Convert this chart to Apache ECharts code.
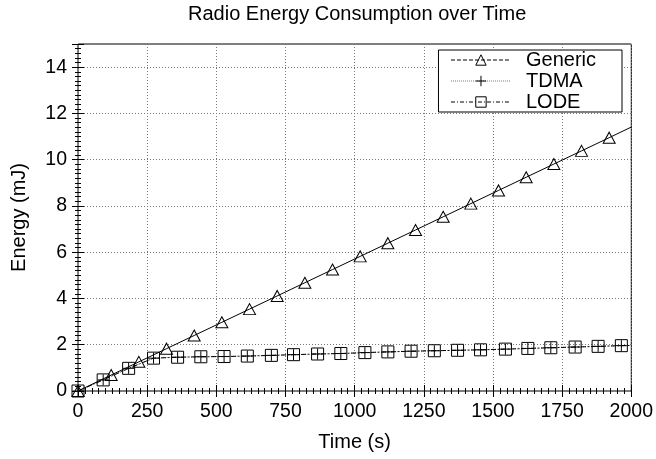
<!DOCTYPE html>
<html>
<head>
<meta charset="utf-8">
<script src="https://cdn.jsdelivr.net/npm/echarts@6/dist/echarts.min.js"></script>
<style>
html,body{margin:0;padding:0;background:#fff;}
#chart{width:656px;height:459px;}
</style>
</head>
<body>
<div id="chart"></div>
<script>
// ---- data ----
const chartTitle = 'Radio Energy Consumption over Time';
const xName = 'Time (s)';
const yName = 'Energy (mJ)';
const seriesNames = ['Generic', 'TDMA', 'LODE'];

const genericTime = [0, 120, 220, 320, 420, 520, 620, 720, 820, 920, 1020, 1120, 1220, 1320, 1420, 1520, 1620, 1720, 1820, 1920, 2000];
const genericEnergy = [0, 0.69, 1.26, 1.83, 2.40, 2.97, 3.54, 4.11, 4.68, 5.25, 5.82, 6.39, 6.96, 7.53, 8.10, 8.67, 9.24, 9.81, 10.38, 10.95, 11.41];

const lodeTime = [0, 91, 183, 273, 360, 444, 528, 612, 699, 779, 866, 950, 1037, 1120, 1204, 1288, 1372, 1455, 1545, 1626, 1709, 1797, 1880, 1964, 2000];
const lodeEnergy = [0, 0.48, 0.98, 1.42, 1.46, 1.48, 1.49, 1.51, 1.54, 1.57, 1.60, 1.62, 1.66, 1.69, 1.72, 1.74, 1.76, 1.78, 1.81, 1.84, 1.87, 1.90, 1.93, 1.96, 1.97];

const tdmaTime = lodeTime;
const tdmaEnergy = lodeEnergy;

const xTicks = [0, 250, 500, 750, 1000, 1250, 1500, 1750, 2000];
const yTicks = [0, 2, 4, 6, 8, 10, 12, 14];

// ---- chart ----
const FONT = 'Liberation Sans, Arial, sans-serif';
function pts(t, v, lastNoSymbol) {
  return t.map((x, i) => {
    const item = { value: [x, v[i]] };
    if (lastNoSymbol && i === t.length - 1) item.symbol = 'none';
    return item;
  });
}
const plusPath = 'path://M0,5L10,5M5,0L5,10';

const chart = echarts.init(document.getElementById('chart'), null, { renderer: 'canvas' });

const axisCommon = {
  type: 'value',
  axisLine: { show: false },
  axisTick: { show: true, inside: true, length: 6, lineStyle: { color: '#000', width: 1 } },
  minorTick: { show: true, splitNumber: 10, length: 3, lineStyle: { color: '#000', width: 1 } },
  splitLine: { show: false },
};

chart.setOption({
  animation: false,
  backgroundColor: '#fff',
  title: {
    text: chartTitle,
    left: 188,
    top: 4,
    padding: 0,
    textStyle: { fontFamily: FONT, fontSize: 20, fontWeight: 'normal', color: '#000' }
  },
  grid: {
    left: 78, right: 21, top: 44, bottom: 68,
    show: true, borderColor: '#000', borderWidth: 1, backgroundColor: 'transparent'
  },
  legend: {
    orient: 'vertical',
    right: 34,
    top: 50,
    backgroundColor: '#fff',
    borderColor: '#000',
    borderWidth: 1,
    padding: [0, 26, 0, 12],
    itemWidth: 60,
    itemHeight: 13,
    itemGap: 1,
    itemStyle: { borderWidth: 1 },
    textStyle: { fontFamily: FONT, fontSize: 20, color: '#000', padding: [0, 0, 0, 10] },
    data: [
      { name: seriesNames[0], lineStyle: { type: [4, 2], color: '#000', width: 1 } },
      { name: seriesNames[1], lineStyle: { type: [1, 1], color: '#777', width: 1 } },
      { name: seriesNames[2], lineStyle: { type: [4, 2, 1, 2], color: '#000', width: 1 } }
    ]
  },
  xAxis: [
    Object.assign({}, axisCommon, {
      min: 0, max: 2000, interval: 250, position: 'bottom',
      name: xName, nameLocation: 'middle', nameGap: 41,
      nameTextStyle: { fontFamily: FONT, fontSize: 20, color: '#000' },
      axisLabel: { fontFamily: FONT, fontSize: 19.5, color: '#000', margin: 11,
        formatter: v => xTicks.includes(v) ? String(v) : '' },
      splitLine: { show: true, lineStyle: { type: [1, 2], color: '#777', width: 1 } }
    }),
    Object.assign({}, axisCommon, {
      min: 0, max: 2000, interval: 250, position: 'top',
      axisLabel: { show: false }
    })
  ],
  yAxis: [
    Object.assign({}, axisCommon, {
      min: 0, max: 15, interval: 2, position: 'left',
      name: yName, nameLocation: 'middle', nameGap: 49,
      nameTextStyle: { fontFamily: FONT, fontSize: 20, color: '#000' },
      axisLabel: { fontFamily: FONT, fontSize: 19.5, color: '#000', margin: 11, showMaxLabel: false,
        formatter: v => yTicks.includes(v) ? String(v) : '' },
      splitLine: { show: true, lineStyle: { type: [1, 2], color: '#777', width: 1 } }
    }),
    Object.assign({}, axisCommon, {
      min: 0, max: 15, interval: 2, position: 'right',
      axisLabel: { show: false }
    })
  ],
  series: [
    {
      name: seriesNames[0], type: 'line', xAxisIndex: 0, yAxisIndex: 0,
      data: pts(genericTime, genericEnergy, true),
      symbol: 'triangle', symbolSize: [12, 11], showAllSymbol: true,
      lineStyle: { color: '#000', width: 1, type: 'solid' },
      itemStyle: { color: 'rgba(255,255,255,0)', borderColor: '#000', borderWidth: 1 },
      z: 3
    },
    {
      name: seriesNames[1], type: 'line', xAxisIndex: 0, yAxisIndex: 0,
      data: pts(tdmaTime, tdmaEnergy, true),
      symbol: plusPath, symbolSize: 11, showAllSymbol: true,
      lineStyle: { color: '#777', width: 1, type: [1, 1] },
      itemStyle: { color: 'rgba(255,255,255,0)', borderColor: '#000', borderWidth: 1 },
      z: 2
    },
    {
      name: seriesNames[2], type: 'line', xAxisIndex: 0, yAxisIndex: 0,
      data: pts(lodeTime, lodeEnergy, true),
      symbol: 'rect', symbolSize: 12, showAllSymbol: true,
      lineStyle: { color: '#000', width: 1, type: [5, 2, 1, 2] },
      itemStyle: { color: 'rgba(255,255,255,0)', borderColor: '#000', borderWidth: 1 },
      z: 4
    }
  ]
});
</script>
</body>
</html>
